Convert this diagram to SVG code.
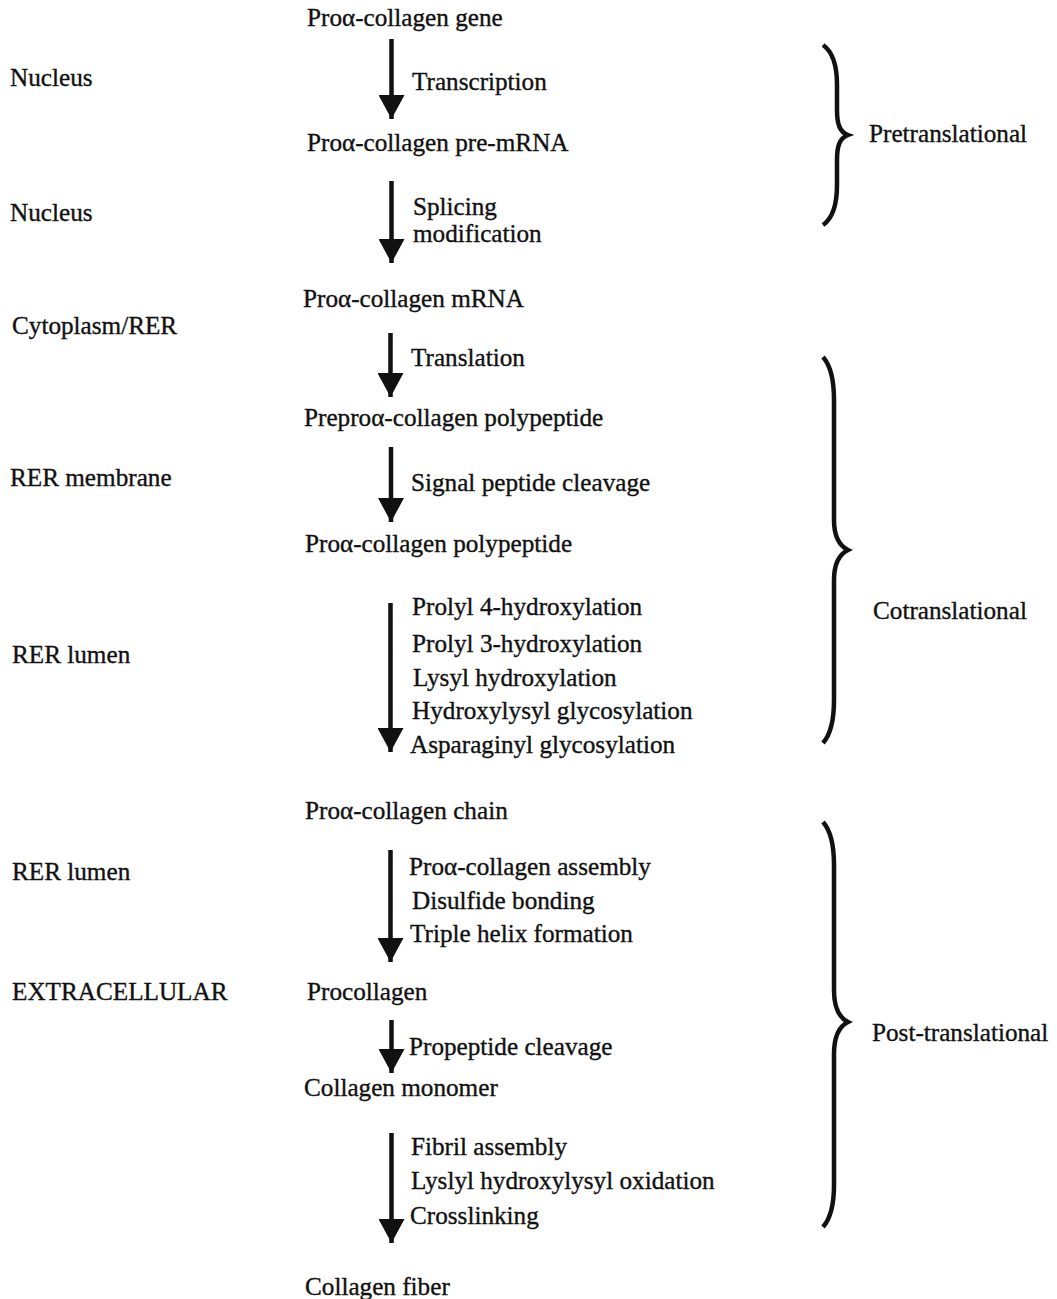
<svg xmlns="http://www.w3.org/2000/svg" width="1057" height="1299" viewBox="0 0 1057 1299">
<style>
text{font-family:"Liberation Serif","Times New Roman",serif;font-size:25.2px;fill:#111;stroke:#111;stroke-width:0.35}
.shaft{stroke:#111;stroke-width:4.5;fill:none}
.brace{stroke:#111;stroke-width:4.5;fill:none;stroke-linecap:butt}
</style>
<defs>
<marker id="ah" markerUnits="userSpaceOnUse" viewBox="0 0 24 26" refX="24" refY="13" markerWidth="24" markerHeight="26" orient="auto">
<path d="M0,0 L24,13 L0,26 z" fill="#111"/>
</marker>
</defs>
<rect width="1057" height="1299" fill="#fff"/>
<g id="connectors">
<line class="shaft" x1="391.5" y1="39" x2="391.5" y2="119" marker-end="url(#ah)"/>
<line class="shaft" x1="391.5" y1="181" x2="391.5" y2="263" marker-end="url(#ah)"/>
<line class="shaft" x1="390.5" y1="333" x2="390.5" y2="397" marker-end="url(#ah)"/>
<line class="shaft" x1="391" y1="447" x2="391" y2="522" marker-end="url(#ah)"/>
<line class="shaft" x1="390.5" y1="603" x2="390.5" y2="752" marker-end="url(#ah)"/>
<line class="shaft" x1="390.5" y1="850" x2="390.5" y2="962" marker-end="url(#ah)"/>
<line class="shaft" x1="391.5" y1="1020" x2="391.5" y2="1073" marker-end="url(#ah)"/>
<line class="shaft" x1="391.5" y1="1133" x2="391.5" y2="1243" marker-end="url(#ah)"/>
</g>
<g id="braces">
<path class="brace" d="M823,45 C833,52 837,65 837,85 L837,110 C837,125 840,132 848,135 C840,138 837,145 837,160 L837,185 C837,205 833,218 823,225"/>
<path class="brace" d="M823,357 C831,366 834,380 834,400 L834,520 C834,538 840,546 848,550 C840,554 834,562 834,580 L834,700 C834,720 831,734 823,743"/>
<path class="brace" d="M823,822 C831,831 834,845 834,865 L834,990 C834,1010 840,1018 848,1022 C840,1026 834,1034 834,1054 L834,1185 C834,1205 831,1218 823,1227"/>
</g>
<g id="node-gene"><text x="307" y="26">Proα-collagen gene</text></g>
<g id="node-premrna"><text x="307" y="151">Proα-collagen pre-mRNA</text></g>
<g id="node-mrna"><text x="303" y="307">Proα-collagen mRNA</text></g>
<g id="node-prepro"><text x="304" y="426">Preproα-collagen polypeptide</text></g>
<g id="node-pro-poly"><text x="305" y="552">Proα-collagen polypeptide</text></g>
<g id="node-chain"><text x="305" y="819">Proα-collagen chain</text></g>
<g id="node-procollagen"><text x="307" y="1000">Procollagen</text></g>
<g id="node-monomer"><text x="304" y="1096">Collagen monomer</text></g>
<g id="node-fiber"><text x="305" y="1295">Collagen fiber</text></g>
<g id="step-labels">
<text x="412" y="90">Transcription</text>
<text x="413" y="215">Splicing</text>
<text x="413" y="242">modification</text>
<text x="411" y="366">Translation</text>
<text x="411" y="491">Signal peptide cleavage</text>
<text x="412" y="615">Prolyl 4-hydroxylation</text>
<text x="412" y="652">Prolyl 3-hydroxylation</text>
<text x="413" y="686">Lysyl hydroxylation</text>
<text x="412" y="719">Hydroxylysyl glycosylation</text>
<text x="410" y="753">Asparaginyl glycosylation</text>
<text x="409" y="875">Proα-collagen assembly</text>
<text x="412" y="909">Disulfide bonding</text>
<text x="410" y="942">Triple helix formation</text>
<text x="409" y="1055">Propeptide cleavage</text>
<text x="411" y="1155">Fibril assembly</text>
<text x="411" y="1189">Lyslyl hydroxylysyl oxidation</text>
<text x="410" y="1224">Crosslinking</text>
</g>
<g id="locations">
<text x="10" y="86">Nucleus</text>
<text x="10" y="221">Nucleus</text>
<text x="12" y="334">Cytoplasm/RER</text>
<text x="10" y="486">RER membrane</text>
<text x="12" y="663">RER lumen</text>
<text x="12" y="880">RER lumen</text>
<text x="12" y="1000">EXTRACELLULAR</text>
</g>
<g id="phases">
<text x="869" y="142">Pretranslational</text>
<text x="873" y="619">Cotranslational</text>
<text x="872" y="1041">Post-translational</text>
</g>
</svg>
